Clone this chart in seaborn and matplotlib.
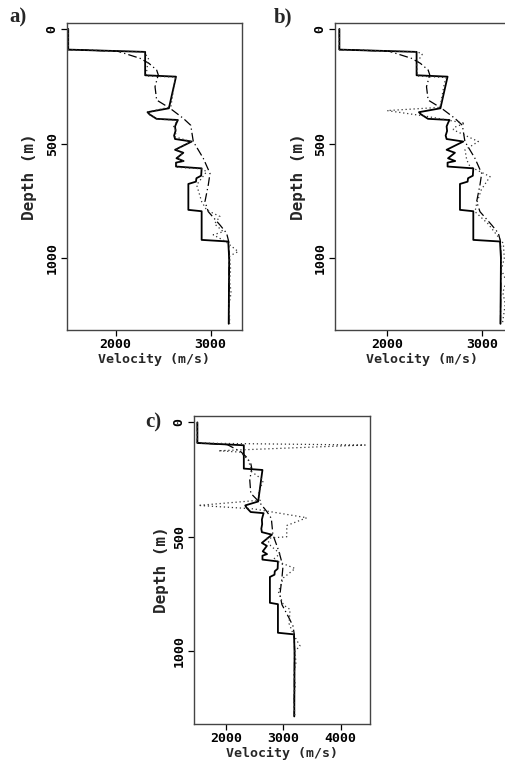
import matplotlib
matplotlib.use("Agg")
import matplotlib.pyplot as plt
import seaborn as sns
import pandas as pd

# ---- data ----
true_depth = [0, 90, 100, 202, 208, 346, 363, 372, 392, 397, 410, 425, 445, 465, 480, 491,
              527, 540, 564, 576, 583, 600, 608, 640, 651, 666, 676, 789, 795, 920, 927,
              1000, 1286]
true_vel = [1500, 1500, 2310, 2310, 2635, 2560, 2335, 2355, 2430, 2655, 2640, 2625, 2630,
            2615, 2625, 2800, 2625, 2712, 2640, 2715, 2635, 2635, 2905, 2900, 2850, 2845,
            2765, 2765, 2905, 2905, 3185, 3195, 3190]

init_depth = [0, 90, 97, 128, 150, 179, 200, 252, 310, 346, 390, 420, 491, 564, 630, 680,
              753, 797, 855, 891, 927, 1000, 1286]
init_vel = [1500, 1500, 2020, 2256, 2350, 2431, 2448, 2414, 2431, 2572, 2712, 2790, 2817,
            2922, 2993, 2975, 2940, 2975, 3098, 3168, 3190, 3195, 3190]

a_depth = [0, 90, 100, 130, 170, 205, 210, 340, 362, 375, 393, 398, 425, 445, 470, 491,
           527, 540, 564, 576, 585, 603, 610, 622, 680, 753, 790, 818, 850, 884, 898, 925,
           971, 990, 1050, 1100, 1150, 1200, 1286]
a_vel = [1500, 1500, 2300, 2345, 2330, 2320, 2630, 2580, 2340, 2360, 2440, 2650, 2610, 2640,
         2620, 2790, 2630, 2710, 2650, 2710, 2640, 2640, 2900, 2958, 2852, 2905, 2958, 3098,
         3040, 3133, 3027, 3150, 3290, 3200, 3210, 3200, 3215, 3195, 3200]

b_depth = [0, 90, 100, 110, 150, 205, 212, 240, 342, 356, 380, 411, 430, 440, 491, 527,
           571, 600, 644, 700, 760, 797, 850, 898, 935, 1000, 1050, 1100, 1150, 1200, 1286]
b_vel = [1500, 1500, 2320, 2370, 2310, 2320, 2620, 2600, 2556, 2000, 2400, 2818, 2700, 2696,
         2958, 2818, 2836, 2870, 3081, 2990, 2941, 2923, 3060, 3150, 3220, 3230, 3200, 3250,
         3215, 3240, 3210]

c_depth = [0, 90, 92, 99, 124, 130, 165, 216, 253, 311, 340, 363, 378, 417, 451, 500, 507,
           540, 574, 600, 639, 680, 740, 798, 818, 880, 927, 978, 1000, 1050, 1100, 1150,
           1200, 1286]
c_vel = [1500, 1500, 1953, 4426, 1866, 2250, 2389, 2448, 2651, 2564, 2600, 1517, 2476, 3408,
         3059, 3059, 2709, 2780, 2942, 2820, 3204, 3000, 2913, 3000, 3116, 3100, 3174, 3291,
         3200, 3220, 3180, 3210, 3180, 3200]

panel_labels = ["a)", "b)", "c)"]

# ---- style ----
sns.set_style("ticks")
plt.rcParams["font.family"] = ["DejaVu Sans Mono", "DejaVu Sans"]
plt.rcParams["font.weight"] = "bold"

W, H = 506, 766
fig = plt.figure(figsize=(W / 100, H / 100), dpi=100)


def px_axes(l, t, r, b):
    return fig.add_axes([l / W, 1 - b / H, (r - l) / W, (b - t) / H])


axes_spec = [
    (px_axes(67, 23, 242, 330), a_depth, a_vel, (1487, 3330), (1313, -26), [2000, 3000], 30),
    (px_axes(335, 23, 510, 330), b_depth, b_vel, (1454, 3290), (1313, -26), [2000, 3000], 298),
    (px_axes(194, 416, 370, 724), c_depth, c_vel, (1441, 4511), (1319, -28), [2000, 3000, 4000], 162),
]

for ax, dd, vv, xl, yl, xt, ylab_x in axes_spec:
    true_df = pd.DataFrame({"Velocity": true_vel, "Depth": true_depth})
    init_df = pd.DataFrame({"Velocity": init_vel, "Depth": init_depth})
    inv_df = pd.DataFrame({"Velocity": vv, "Depth": dd})
    sns.lineplot(data=true_df, x="Velocity", y="Depth", sort=False, estimator=None,
                 ax=ax, color="black", lw=1.3, linestyle="-")
    sns.lineplot(data=init_df, x="Velocity", y="Depth", sort=False, estimator=None,
                 ax=ax, color="black", lw=0.9, linestyle=(0, (7, 2.5, 1, 2.5)))
    sns.lineplot(data=inv_df, x="Velocity", y="Depth", sort=False, estimator=None,
                 ax=ax, color="#333333", lw=0.9, linestyle=(0, (1, 2.2)))
    ax.set_xlim(*xl)
    ax.set_ylim(*yl)
    ax.set_xticks(xt)
    ax.set_yticks([0, 500, 1000])
    ax.tick_params(direction="out", length=4, width=0.9, labelsize=9.5, pad=2,
                   colors="black")
    for lab in ax.get_yticklabels():
        lab.set_rotation(90)
        lab.set_va("center")
    for sp in ax.spines.values():
        sp.set_visible(True)
        sp.set_linewidth(1.0)
        sp.set_color("#444444")
    ax.set_xlabel("Velocity (m/s)", fontsize=9.5, fontweight="bold", labelpad=1)
    ax.set_ylabel("Depth (m)", fontsize=11.5, fontweight="bold")
    bb = ax.get_position()
    ax.yaxis.set_label_coords((ylab_x / W - bb.x0) / bb.width, 0.5)
    ax.yaxis.label.set_va("center")

label_pos = [(9, 17), (274, 17), (145, 422)]
for (x, y), txt in zip(label_pos, panel_labels):
    fig.text(x / W, 1 - y / H, txt, fontsize=15, fontweight="bold",
             family=["Liberation Serif", "DejaVu Serif"], va="center", ha="left")

fig.savefig("out.png", dpi=100)
